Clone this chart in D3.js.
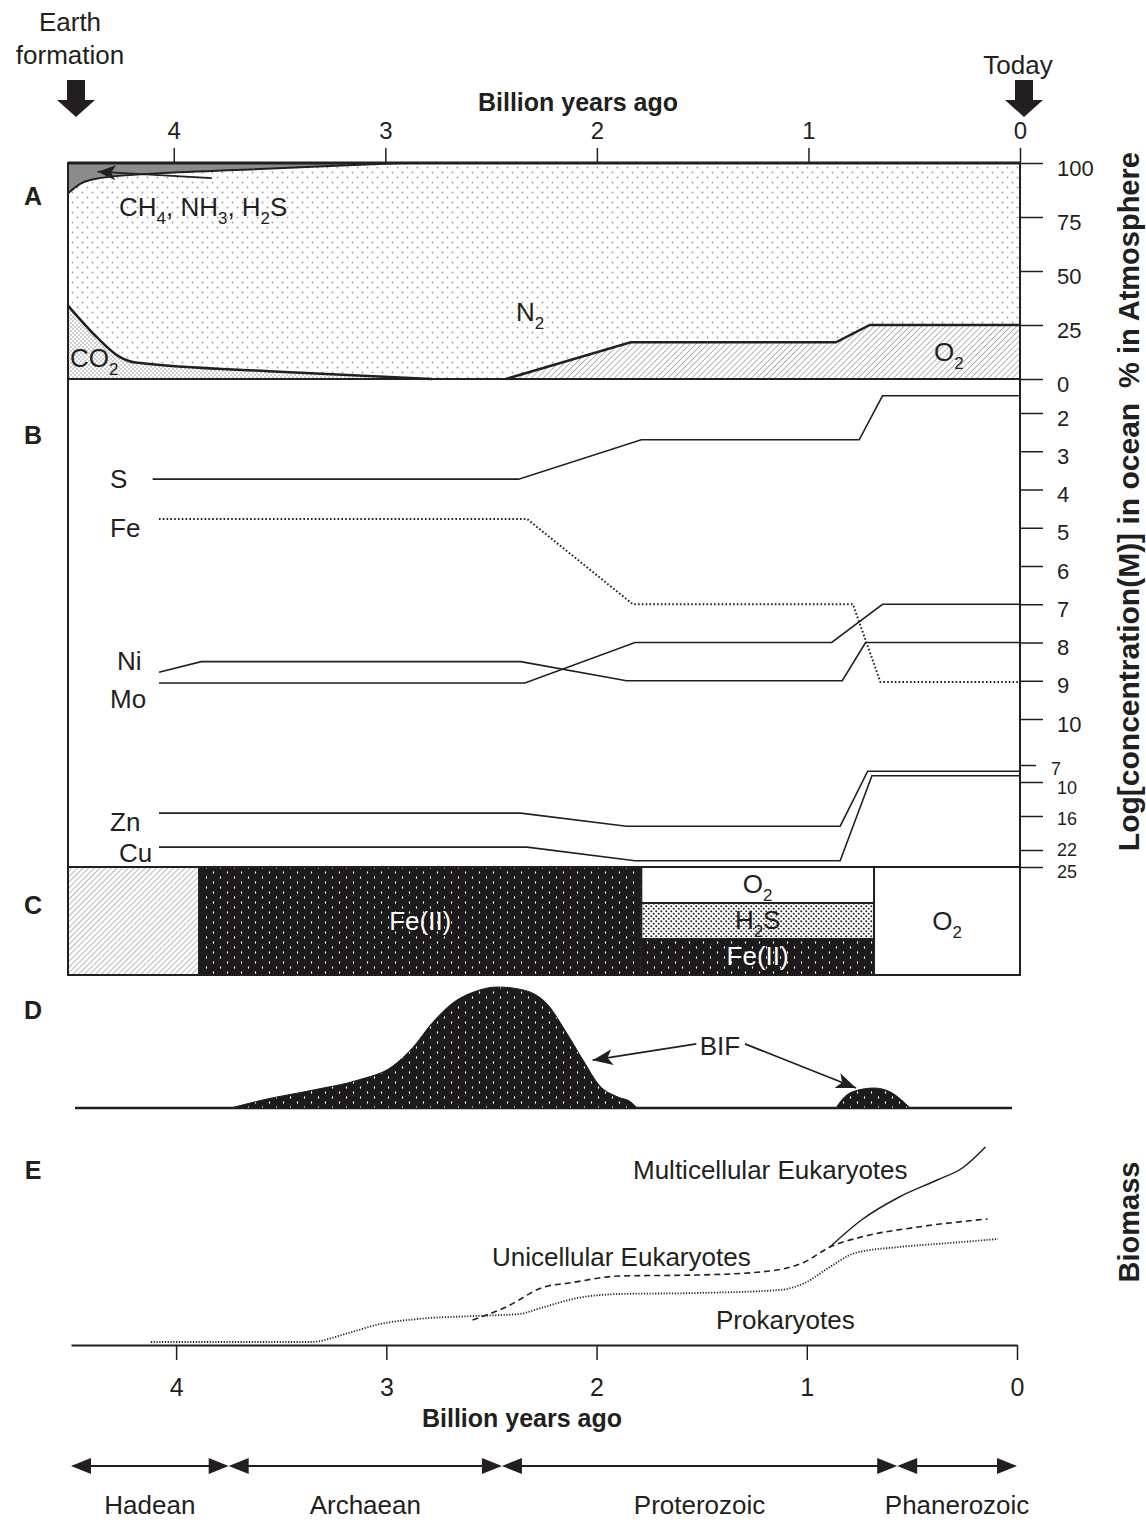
<!DOCTYPE html>
<html><head><meta charset="utf-8">
<script src="https://cdn.jsdelivr.net/npm/d3@7"></script>
<style>
body{margin:0;background:#fff;}
svg text{font-family:"Liberation Sans",Arial,Helvetica,sans-serif;fill:#231f20;}
</style></head><body>
<svg id="chart" width="1146" height="1523"></svg>
<script>
// ---------------- DATA ----------------
const ageTicks = [4,3,2,1,0];
const atmTicks = [100,75,50,25,0];
const oceanTicksUpper = [2,3,4,5,6,7,8,9,10];
const oceanTicksLower = [7,10,16,22,25];

// Panel A: atmosphere composition (% in atmosphere) vs billion years ago
const reducedGasEdge = [[4.5,86],[4.44,90.5],[4.35,93],[4.11,95],[3.64,97],[2.92,100]];
const co2Edge = [[4.5,34],[4.36,19],[4.26,10.5],[4.18,7.6],[3.5,3.4],[2.78,0]];
const o2Edge = [[2.43,0],[1.84,17],[0.87,17],[0.71,25],[0,25]];
const reducedGasArrow = [[3.82,93],[4.36,96]];

// Panel B: -log concentration in ocean
const seriesS  = [[4.10,3.73],[2.37,3.73],[1.79,2.7],[0.76,2.7],[0.65,1.55],[0,1.55]];
const seriesFe = [[4.07,4.77],[2.33,4.77],[1.83,7.0],[0.79,7.0],[0.66,9.03],[0,9.03]];
const seriesNi = [[4.07,8.78],[3.87,8.5],[2.36,8.5],[1.86,9.0],[0.84,9.0],[0.73,8.0],[0,8.0]];
const seriesMo = [[4.07,9.06],[2.34,9.06],[1.82,8.0],[0.89,8.0],[0.65,7.0],[0,7.0]];
const seriesZn = [[4.07,15.5],[2.36,15.5],[1.86,17.8],[0.85,17.8],[0.72,8.1],[0,8.1]];
const seriesCu = [[4.07,21.5],[2.33,21.5],[1.82,23.9],[0.85,23.9],[0.70,8.9],[0,8.9]];

// Panel C: ocean chemistry bands
const bandStart = [4.5,3.88,1.79,0.69];
const bandEnd   = [3.88,1.79,0.69,0];
const bandLayers = [["unknown"],["Fe(II)"],["O2","H2S","Fe(II)"],["O2"]];

// Panel D: banded iron formations (relative abundance)
const bifMain = [[3.73,0],[3.58,6.6],[3.34,14.9],[3.13,23],[2.97,34],[2.87,50],[2.78,70],[2.68,87],[2.58,96],[2.47,100],[2.36,98],[2.23,85],[2.15,64],[2.06,38],[1.99,19],[1.90,9],[1.84,5],[1.81,0]];
const bifLate = [[0.87,0],[0.83,9],[0.76,15],[0.69,16.5],[0.61,13],[0.56,6.6],[0.52,0]];
const bifArrows = [[[1.53,53],[2.02,39.5]],[[1.30,53],[0.775,16.5]]];

// Panel E: biomass (relative)
const prokaryotes = [[4.12,1.5],[3.36,1.5],[3.18,6],[3.03,10.5],[2.85,13],[2.58,14.5],[2.37,15.5],[2.25,19],[2.09,23.5],[1.89,25.5],[1.52,26],[1.13,27.5],[1.01,31],[0.89,39],[0.77,46],[0.56,49],[0.32,51],[0.09,53]];
const unicellular = [[2.59,12.5],[2.43,19],[2.25,29],[2.13,31],[1.89,34.5],[1.52,35],[1.22,36.5],[1.01,41.5],[0.89,49],[0.74,54],[0.47,59],[0.14,63]];
const multicellular = [[0.89,49],[0.74,62.5],[0.56,74],[0.38,82.5],[0.26,88.5],[0.15,99]];

// Eons
const eonNames = ["Hadean","Archaean","Proterozoic","Phanerozoic"];
const eonBounds = [4.5,3.75,2.45,0.57,0];

// ---------------- DRAW ----------------
const INK = "#231f20";
const svg = d3.select("#chart");
const defs = svg.append("defs");

const x  = d3.scaleLinear().domain([4.5,0]).range([68,1020]);
const xE = d3.scaleLinear().domain([4.5,0]).range([71,1017]);
const yA = d3.scaleLinear().domain([0,100]).range([379,163]);
const yB = d3.scaleLinear().domain([2,10]).range([413,719]);
const yB2 = d3.scaleLinear().domain([7,25]).range([765,867]);
const yD = d3.scaleLinear().domain([0,100]).range([1108,987]);
const yE = d3.scaleLinear().domain([0,100]).range([1345,1145]);

// patterns
function dotPattern(id,w,h,bg,fg,dots,rx,ry){
  const p = defs.append("pattern").attr("id",id).attr("patternUnits","userSpaceOnUse").attr("width",w).attr("height",h);
  p.append("rect").attr("width",w).attr("height",h).attr("fill",bg);
  dots.forEach(d=>p.append("ellipse").attr("cx",d[0]).attr("cy",d[1]).attr("rx",rx).attr("ry",ry).attr("fill",fg));
}
dotPattern("n2",10,10,"#fff","#9a9a9a",[[2.5,2.5],[7.5,7.5]],0.9,0.9);
dotPattern("co2",4,4,"#fff","#8a8a8a",[[1,1],[3,3]],0.75,0.75);
dotPattern("blk",14,10,"#1c1a1b","#fff",[[3.5,2.5],[10.5,7.5]],0.6,1.3);
dotPattern("h2s",5,5,"#fff","#2a2a2a",[[1.25,1.25],[3.75,3.75]],1.05,1.05);
function hatch(id,gap,col,wid){
  const p = defs.append("pattern").attr("id",id).attr("patternUnits","userSpaceOnUse").attr("width",gap).attr("height",gap).attr("patternTransform","rotate(45)");
  p.append("rect").attr("width",gap).attr("height",gap).attr("fill","#fff");
  p.append("line").attr("x1",0).attr("y1",0).attr("x2",0).attr("y2",gap).attr("stroke",col).attr("stroke-width",wid);
}
hatch("o2h",4.2,"#7a7a7a",1.1);
hatch("ch",4,"#8a8a8a",1.2);

// markers
function marker(id,len,half){
  defs.append("marker").attr("id",id).attr("markerUnits","userSpaceOnUse").attr("markerWidth",len+2).attr("markerHeight",half*2+2)
    .attr("viewBox",`0 ${-half-1} ${len+2} ${half*2+2}`).attr("refX",len).attr("refY",0).attr("orient","auto")
    .append("path").attr("d",`M0,${-half}L${len},0L0,${half}L${len*0.25},0Z`).attr("fill",INK);
}
marker("arrA",18,7.5);
marker("arrD",20,8);

// text helpers
function chemParts(s){ if(s.startsWith("Fe(")) return [[s,false]]; return s.split(/(\d+)/).filter(p=>p!=="").map(p=>[p,/^\d+$/.test(p)]); }
function rich(parent,xp,yp,label,size,anchor,fill){
  const t = parent.append("text").attr("x",xp).attr("y",yp).attr("font-size",size).attr("text-anchor",anchor||"start");
  if(fill) t.style("fill",fill);
  let down=false;
  chemParts(label).forEach(([s,sub])=>{
    const ts=t.append("tspan").text(s);
    if(sub){ ts.attr("font-size",size*0.65); if(!down){ts.attr("dy",size*0.3);down=true;} }
    else if(down){ ts.attr("dy",-size*0.3); down=false; }
  });
  return t;
}
function txt(xp,yp,s,size,opt={}){
  const t = svg.append("text").attr("x",xp).attr("y",yp).attr("font-size",size).attr("text-anchor",opt.anchor||"middle").text(s);
  if(opt.bold) t.attr("font-weight","bold");
  if(opt.rot) t.attr("transform",`rotate(-90 ${xp} ${yp})`);
  return t;
}

// ---- header ----
txt(70,31,"Earth",26); txt(70,64,"formation",26); txt(1018,74,"Today",26);
function blockArrow(cx){
  svg.append("path").attr("d",`M${cx-9},80H${cx+9}V100H${cx+19}L${cx},117L${cx-19},100H${cx-9}Z`).attr("fill",INK);
}
blockArrow(76); blockArrow(1024);
txt(578,111,"Billion years ago",25,{bold:true});
const topAx = svg.append("g").attr("transform","translate(0,162)")
  .call(d3.axisTop(x).tickValues(ageTicks).tickSize(14).tickPadding(9).tickFormat(d3.format("d")));
topAx.select(".domain").remove();
topAx.selectAll("line").attr("stroke",INK).attr("stroke-width",1.5);
topAx.selectAll("text").attr("font-size",24).style("font-family","Liberation Sans, Arial, sans-serif");

// ---- Panel A ----
const gA = svg.append("g");
gA.append("rect").attr("x",68).attr("y",yA(100)).attr("width",952).attr("height",yA(0)-yA(100)).attr("fill","url(#n2)");
const areaTop = d3.area().x(d=>x(d[0])).y0(yA(100)).y1(d=>yA(d[1])).curve(d3.curveMonotoneX);
const areaBot = d3.area().x(d=>x(d[0])).y0(yA(0)).y1(d=>yA(d[1])).curve(d3.curveMonotoneX);
const lineMono = d3.line().x(d=>x(d[0])).y(d=>yA(d[1])).curve(d3.curveMonotoneX);
gA.append("path").attr("d",areaTop(reducedGasEdge)).attr("fill","#8c8c8c");
gA.append("path").attr("d",lineMono(reducedGasEdge)).attr("fill","none").attr("stroke",INK).attr("stroke-width",2);
gA.append("path").attr("d",areaBot(co2Edge)).attr("fill","url(#co2)");
gA.append("path").attr("d",lineMono(co2Edge)).attr("fill","none").attr("stroke",INK).attr("stroke-width",2.5);
const areaO2 = d3.area().x(d=>x(d[0])).y0(yA(0)).y1(d=>yA(d[1]));
gA.append("path").attr("d",areaO2(o2Edge)).attr("fill","url(#o2h)");
gA.append("path").attr("d",d3.line().x(d=>x(d[0])).y(d=>yA(d[1]))(o2Edge)).attr("fill","none").attr("stroke",INK).attr("stroke-width",2.5);
gA.append("rect").attr("x",68).attr("y",yA(100)).attr("width",952).attr("height",yA(0)-yA(100)).attr("fill","none").attr("stroke",INK).attr("stroke-width",2);
gA.append("line").attr("x1",68).attr("x2",1020).attr("y1",yA(100)).attr("y2",yA(100)).attr("stroke",INK).attr("stroke-width",3);
gA.append("line").attr("x1",x(reducedGasArrow[0][0])).attr("y1",yA(reducedGasArrow[0][1]))
  .attr("x2",x(reducedGasArrow[1][0])).attr("y2",yA(reducedGasArrow[1][1])).attr("stroke",INK).attr("stroke-width",1.8).attr("marker-end","url(#arrA)");
rich(gA,119,216,"CH4, NH3, H2S",26);
rich(gA,516,321,"N2",26);
rich(gA,70,367,"CO2",26);
rich(gA,934,361,"O2",26);
txt(33,205,"A",25,{bold:true});

// right axes
svg.append("line").attr("x1",1020).attr("x2",1020).attr("y1",yA(100)).attr("y2",867).attr("stroke",INK).attr("stroke-width",2);
function styleAx(g,dy,fs){
  g.select(".domain").remove();
  g.selectAll("line").attr("stroke",INK).attr("stroke-width",1.5);
  g.selectAll("text").attr("font-size",fs).attr("dy",dy).style("font-family","Liberation Sans, Arial, sans-serif");
}
const axA = svg.append("g").attr("transform","translate(1020,0)").call(d3.axisRight(yA).tickValues(atmTicks).tickSize(23).tickPadding(14));
styleAx(axA,"0.55em",22);
const axB = svg.append("g").attr("transform","translate(1020,0)").call(d3.axisRight(yB).tickValues(oceanTicksUpper).tickSize(23).tickPadding(14));
styleAx(axB,"0.55em",22);
const axB2 = svg.append("g").attr("transform","translate(1020,0)").call(d3.axisRight(yB2).tickValues(oceanTicksLower).tickSize(23).tickPadding(14));
styleAx(axB2,"0.36em",18);
const lowerShift = {7:3, 10:5, 16:2, 22:-1, 25:4};
axB2.selectAll(".tick text").attr("y",d=>lowerShift[d]);
axB2.selectAll(".tick").filter(d=>d===7).select("line").attr("x2",16);
axB2.selectAll(".tick").filter(d=>d===7).select("text").attr("x",31);

txt(1139,270,"% in Atmosphere",29,{bold:true,rot:true});
txt(1139,627,"Log[concentration(M)] in ocean",30,{bold:true,rot:true});
txt(1139,1222,"Biomass",29,{bold:true,rot:true});

// ---- Panel B ----
const gB = svg.append("g");
gB.append("line").attr("x1",68).attr("x2",68).attr("y1",379).attr("y2",867).attr("stroke",INK).attr("stroke-width",2);
const lineB = d3.line().x(d=>x(d[0])).y(d=>yB(d[1]));
const lineB2 = d3.line().x(d=>x(d[0])).y(d=>yB2(d[1]));
[[seriesS,lineB,null],[seriesFe,lineB,"1.6,2.2"],[seriesNi,lineB,null],[seriesMo,lineB,null],[seriesZn,lineB2,null],[seriesCu,lineB2,null]]
  .forEach(([s,l,dash])=>{
    const p = gB.append("path").attr("d",l(s)).attr("fill","none").attr("stroke",INK).attr("stroke-width",dash?2:1.6);
    if(dash) p.attr("stroke-dasharray",dash);
  });
const bLabels = [["S",110,488],["Fe",110,537],["Ni",117,670],["Mo",110,708],["Zn",110,831],["Cu",119,862]];
bLabels.forEach(([s,xp,yp])=>gB.append("text").attr("x",xp).attr("y",yp).attr("font-size",26).text(s));
txt(33,444,"B",25,{bold:true});

// ---- Panel C ----
const gC = svg.append("g");
const cTop=867, cBot=975;
const bandFill = {"unknown":"url(#ch)","Fe(II)":"url(#blk)","O2":"#fff","H2S":"url(#h2s)"};
bandStart.forEach((t0,i)=>{
  const layers = bandLayers[i];
  const h = (cBot-cTop)/layers.length;
  const x0 = x(t0), x1 = x(bandEnd[i]);
  layers.forEach((sp,j)=>{
    const y0 = cTop + j*h;
    gC.append("rect").attr("x",x0).attr("y",y0).attr("width",x1-x0).attr("height",h).attr("fill",bandFill[sp]).attr("stroke",INK).attr("stroke-width",2);
    if(sp!=="unknown"){
      rich(gC,(x0+x1)/2,y0+h/2+(layers.length>1?8:9),sp,26,"middle",sp==="Fe(II)"?"#fff":INK);
    }
  });
});
txt(33,914,"C",25,{bold:true});

// ---- Panel D ----
const gD = svg.append("g");
const areaD = d3.area().x(d=>x(d[0])).y0(yD(0)).y1(d=>yD(d[1])).curve(d3.curveMonotoneX);
gD.append("line").attr("x1",75).attr("x2",1012).attr("y1",yD(0)).attr("y2",yD(0)).attr("stroke",INK).attr("stroke-width",2.5);
[bifMain,bifLate].forEach(s=>gD.append("path").attr("d",areaD(s)).attr("fill","url(#blk)").attr("stroke","#1c1a1b").attr("stroke-width",1));
bifArrows.forEach(a=>gD.append("line").attr("x1",x(a[0][0])).attr("y1",yD(a[0][1])).attr("x2",x(a[1][0])).attr("y2",yD(a[1][1]))
  .attr("stroke",INK).attr("stroke-width",1.8).attr("marker-end","url(#arrD)"));
txt(720,1055,"BIF",26);
txt(33,1019,"D",25,{bold:true});

// ---- Panel E ----
const gE = svg.append("g");
const lineE = d3.line().x(d=>xE(d[0])).y(d=>yE(d[1])).curve(d3.curveMonotoneX);
gE.append("path").attr("d",lineE(prokaryotes)).attr("fill","none").attr("stroke",INK).attr("stroke-width",1.8).attr("stroke-dasharray","1.2,1.6");
gE.append("path").attr("d",lineE(unicellular)).attr("fill","none").attr("stroke",INK).attr("stroke-width",1.6).attr("stroke-dasharray","6,4");
gE.append("path").attr("d",lineE(multicellular)).attr("fill","none").attr("stroke",INK).attr("stroke-width",1.5);
gE.append("text").attr("x",633).attr("y",1179).attr("font-size",26).text("Multicellular Eukaryotes");
gE.append("text").attr("x",492).attr("y",1266).attr("font-size",26).text("Unicellular Eukaryotes");
gE.append("text").attr("x",716).attr("y",1329).attr("font-size",26).text("Prokaryotes");
txt(33,1179,"E",25,{bold:true});
const axE = svg.append("g").attr("transform",`translate(0,${yE(0)})`)
  .call(d3.axisBottom(xE).tickValues(ageTicks).tickSize(15).tickSizeOuter(0).tickPadding(18).tickFormat(d3.format("d")));
axE.select(".domain").attr("stroke",INK).attr("stroke-width",2);
axE.selectAll("line").attr("stroke",INK).attr("stroke-width",1.5);
axE.selectAll("text").attr("font-size",25).style("font-family","Liberation Sans, Arial, sans-serif");
txt(522,1427,"Billion years ago",25,{bold:true});

// ---- Eons ----
const gEon = svg.append("g");
const eonY = 1466;
eonNames.forEach((n,i)=>{
  const a = xE(eonBounds[i]), b = xE(eonBounds[i+1]);
  gEon.append("line").attr("x1",a+10).attr("x2",b-10).attr("y1",eonY).attr("y2",eonY).attr("stroke",INK).attr("stroke-width",2);
  gEon.append("path").attr("d",`M${a},${eonY}L${a+20},${eonY-8}L${a+20},${eonY+8}Z`).attr("fill",INK);
  gEon.append("path").attr("d",`M${b},${eonY}L${b-20},${eonY-8}L${b-20},${eonY+8}Z`).attr("fill",INK);
  gEon.append("text").attr("x",(a+b)/2).attr("y",1514).attr("font-size",26).attr("text-anchor","middle").text(n);
});
</script>
</body></html>
